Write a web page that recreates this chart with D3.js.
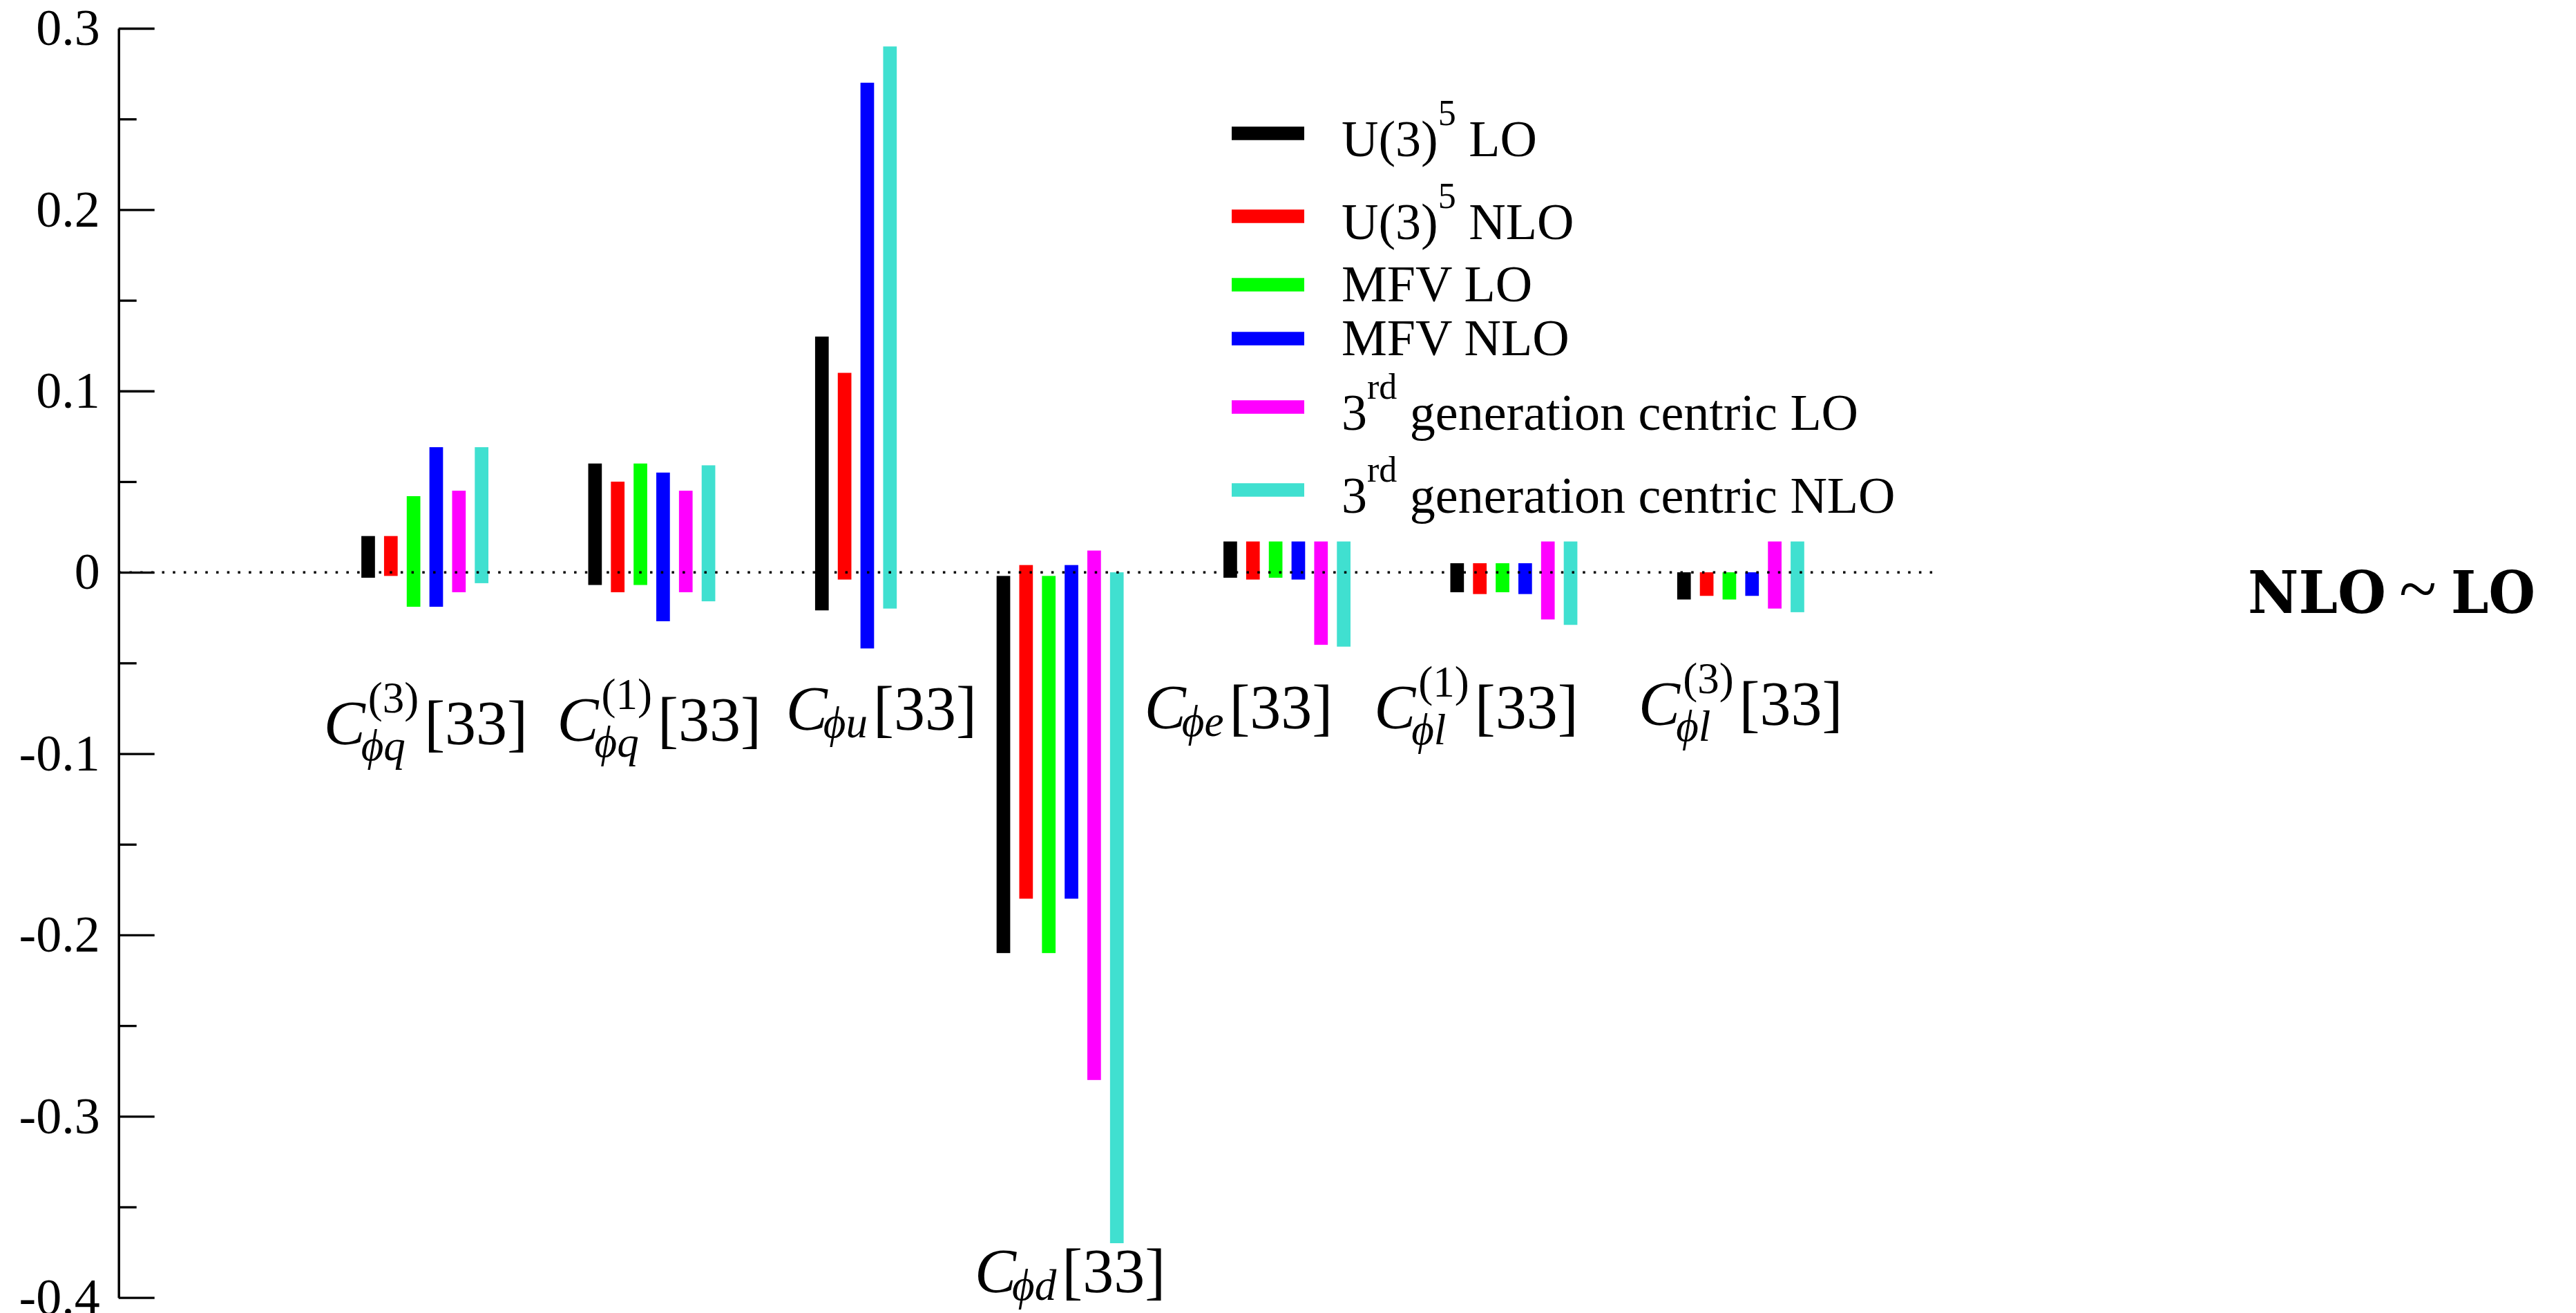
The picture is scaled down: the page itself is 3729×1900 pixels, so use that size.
<!DOCTYPE html>
<html lang="en">
<head>
<meta charset="utf-8">
<title>NLO ~ LO ranges of the [33] operators</title>
<script src="https://d3js.org/d3.v7.min.js"></script>
<style>
    body {
        margin: 0;
        background-color: #ffffff;
    }
    svg {
        display: block;
        font-family: "Liberation Serif", "Times New Roman", serif;
        white-space: pre;
    }
    .tag {
        font-family: "DejaVu Serif", serif;
        font-weight: bold;
    }
</style>
</head>
<body>
<svg id="chart"></svg>
<script>
// categories: C_{sub}^{sup}[33]
const catSub = ["ϕq", "ϕq", "ϕu", "ϕd", "ϕe", "ϕl", "ϕl"];
const catSup = ["(3)", "(1)", "", "", "", "(1)", "(3)"];

// legend entries: text, superscript, text after
const legendMain = ["U(3)", "U(3)", "MFV LO", "MFV NLO", "3", "3"];
const legendSup = ["5", "5", "", "", "rd", "rd"];
const legendTail = [" LO", " NLO", "", "", " generation centric LO", " generation centric NLO"];

// allowed ranges (upper / lower end) per category, null = not shown
const u3LoHi = [0.020, 0.060, 0.130, -0.002, 0.017, 0.005, 0.000];
const u3LoLo = [-0.003, -0.007, -0.021, -0.210, -0.003, -0.011, -0.015];
const u3NloHi = [0.020, 0.050, 0.110, 0.004, 0.017, 0.005, 0.000];
const u3NloLo = [-0.002, -0.011, -0.004, -0.180, -0.004, -0.012, -0.013];
const mfvLoHi = [0.042, 0.060, null, -0.002, 0.017, 0.005, 0.000];
const mfvLoLo = [-0.019, -0.007, null, -0.210, -0.003, -0.011, -0.015];
const mfvNloHi = [0.069, 0.055, 0.270, 0.004, 0.017, 0.005, 0.000];
const mfvNloLo = [-0.019, -0.027, -0.042, -0.180, -0.004, -0.012, -0.013];
const gen3LoHi = [0.045, 0.045, null, 0.012, 0.017, 0.017, 0.017];
const gen3LoLo = [-0.011, -0.011, null, -0.280, -0.040, -0.026, -0.020];
const gen3NloHi = [0.069, 0.059, 0.290, 0.000, 0.017, 0.017, 0.017];
const gen3NloLo = [-0.006, -0.016, -0.020, -0.370, -0.041, -0.029, -0.022];

const yTicks = [0.3, 0.2, 0.1, 0, -0.1, -0.2, -0.3, -0.4];
const yMinorTicks = [0.25, 0.15, 0.05, -0.05, -0.15, -0.25, -0.35];

// where the category names sit (bar-slot units, value units of the baseline)
const labelSlot = [2.54, 12.83, 22.62, 30.94, 38.37, 48.84, 60.5];
const labelVal = [-0.095, -0.093, -0.087, -0.397, -0.086, -0.086, -0.084];

const colors = ["#000000", "#ff0000", "#00ff00", "#0000ff", "#ff00ff", "#40e0d0"];

const series = [
    { hi: u3LoHi, lo: u3LoLo },
    { hi: u3NloHi, lo: u3NloLo },
    { hi: mfvLoHi, lo: mfvLoLo },
    { hi: mfvNloHi, lo: mfvNloLo },
    { hi: gen3LoHi, lo: gen3LoLo },
    { hi: gen3NloHi, lo: gen3NloLo }
];

// bars are placed one after the other, 4 empty slots between categories
const bars = [];
let slot = 0;
catSub.forEach((c, ci) => {
    series.forEach((s, si) => {
        if (s.hi[ci] === null) return;
        bars.push({ ci, si, slot, hi: s.hi[ci], lo: s.lo[ci] });
        slot++;
    });
    slot += 4;
});

const width = 3729, height = 1900;
const svg = d3.select("#chart").attr("width", width).attr("height", height);

const x = d3.scaleLinear().domain([-11, 69]).range([171.7, 2799]);
const y = d3.scaleLinear().domain([-0.4, 0.3]).range([1877.7, 41]);
const barW = (x(1) - x(0)) * 0.6;

// bars
svg.append("g")
    .selectAll("rect")
    .data(bars)
    .enter()
    .append("rect")
    .attr("x", d => x(d.slot) - barW / 2)
    .attr("y", d => y(d.hi))
    .attr("width", barW)
    .attr("height", d => Math.max(1, y(d.lo) - y(d.hi)))
    .attr("fill", d => colors[d.si]);

// dotted zero line
svg.append("line")
    .attr("x1", x(-11))
    .attr("x2", x(69))
    .attr("y1", y(0))
    .attr("y2", y(0))
    .attr("stroke", "#000")
    .attr("stroke-width", 3.5)
    .attr("stroke-dasharray", "3.5,12.2");

// y axis
const yAxis = d3.axisLeft(y)
    .tickValues(yTicks)
    .tickSize(-52)
    .tickSizeOuter(0)
    .tickPadding(27)
    .tickFormat(d => d === 0 ? "0" : d.toFixed(1));

const gy = svg.append("g")
    .attr("transform", `translate(${x(-11)},0)`)
    .call(yAxis);
gy.attr("font-family", null).attr("font-size", null);
gy.select(".domain").attr("stroke-width", 3.5);
gy.selectAll(".tick line").attr("stroke-width", 3.3);
gy.selectAll(".tick text")
    .attr("font-size", 74)
    .attr("fill", "#000");

const gyMinor = svg.append("g")
    .attr("transform", `translate(${x(-11)},0)`)
    .call(d3.axisLeft(y).tickValues(yMinorTicks).tickSize(-26).tickFormat(""));
gyMinor.select(".domain").remove();
gyMinor.selectAll(".tick line").attr("stroke-width", 3.3);

// category names, drawn like C_{sub}^{sup}[33]
const mainSize = 90, scriptSize = 63;
catSub.forEach((sub, i) => {
    const g = svg.append("g");
    const c = g.append("text")
        .attr("font-size", mainSize)
        .attr("font-style", "italic")
        .text("C");
    const wC = c.node().getComputedTextLength();
    let wScript = 0;
    const sup = catSup[i];
    if (sup) {
        const t = g.append("text")
            .attr("x", wC + 4)
            .attr("y", -46)
            .attr("font-size", scriptSize)
            .text(sup);
        wScript = Math.max(wScript, t.node().getComputedTextLength() + 4);
    }
    const s = g.append("text")
        .attr("x", wC - 6)
        .attr("y", sup ? 23 : 11)
        .attr("font-size", scriptSize)
        .attr("font-style", "italic")
        .text(sub);
    wScript = Math.max(wScript, s.node().getComputedTextLength() - 6);
    const b = g.append("text")
        .attr("x", wC + wScript + 8)
        .attr("font-size", mainSize)
        .text("[33]");
    const total = wC + wScript + 8 + b.node().getComputedTextLength();
    g.attr("transform", `translate(${x(labelSlot[i]) - total / 2},${y(labelVal[i])})`);
});

// legend
const legendX = 1783, legendLineW = 105, legendTextX = 1942;
let rowY = 193;
legendMain.forEach((txt, i) => {
    if (i > 0) {
        rowY += 78 + 21 * ((legendSup[i - 1] ? 1 : 0) + (legendSup[i] ? 1 : 0));
    }
    svg.append("line")
        .attr("x1", legendX)
        .attr("x2", legendX + legendLineW)
        .attr("y1", rowY)
        .attr("y2", rowY)
        .attr("stroke", colors[i])
        .attr("stroke-width", 19.5);
    const t = svg.append("text")
        .attr("x", legendTextX)
        .attr("y", rowY + (legendSup[i] ? 33 : 24))
        .attr("font-size", 74);
    t.append("tspan").text(txt);
    if (legendSup[i]) {
        t.append("tspan").attr("dy", -45).attr("font-size", 52).text(legendSup[i]);
        t.append("tspan").attr("dy", 45).text(legendTail[i]);
    }
});

// NLO ~ LO tag
svg.append("text")
    .attr("class", "tag")
    .attr("x", 3254)
    .attr("y", 887)
    .attr("font-size", 85)
    .attr("textLength", 200)
    .attr("lengthAdjust", "spacingAndGlyphs")
    .text("NLO");
svg.append("text")
    .attr("x", 3500)
    .attr("y", 885)
    .attr("text-anchor", "middle")
    .attr("font-size", 100)
    .text("~");
svg.append("text")
    .attr("class", "tag")
    .attr("x", 3548)
    .attr("y", 887)
    .attr("font-size", 85)
    .attr("textLength", 122)
    .attr("lengthAdjust", "spacingAndGlyphs")
    .text("LO");
</script>
</body>
</html>
